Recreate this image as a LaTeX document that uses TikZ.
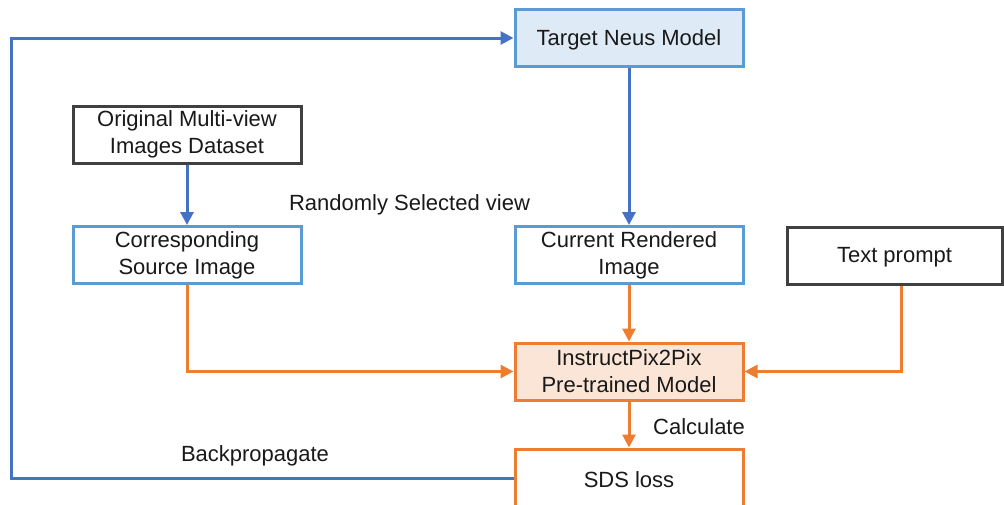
\documentclass[tikz,border=0pt]{standalone}
\usepackage{fontspec}
\setmainfont{Liberation Sans}
\usetikzlibrary{arrows.meta}
\definecolor{lineblue}{HTML}{4472C4}
\definecolor{boxblue}{HTML}{5B9BD5}
\definecolor{fillblue}{HTML}{DEEBF7}
\definecolor{boxdark}{HTML}{404040}
\definecolor{orng}{HTML}{ED7D31}
\definecolor{fillorng}{HTML}{FBE5D6}
\tikzset{
  box/.style={draw, line width=3pt, minimum width=228pt, minimum height=57pt,
    align=center, inner sep=2pt, font=\fontsize{22}{27}\selectfont, text=black!90,
    execute at begin node={\rule{0pt}{19pt}}},
  bluebox/.style={box, draw=boxblue, fill=white},
  darkbox/.style={box, draw=boxdark, fill=white},
  orngbox/.style={box, draw=orng, fill=white},
  bline/.style={draw=lineblue, line width=3pt, -{Triangle[length=13pt,width=13pt]}},
  oline/.style={draw=orng, line width=3pt, -{Triangle[length=13pt,width=13pt]}},
  lbl/.style={font=\fontsize{22}{27}\selectfont, text=black!90, inner sep=0pt}
}
\begin{document}
\begin{tikzpicture}[x=1pt,y=-1pt]
\useasboundingbox (0,0) rectangle (1004,504);
% boxes
\node[bluebox, fill=fillblue] (tn) at (629,38) {Target Neus Model};
\node[darkbox] (od) at (187,134.5) {Original Multi-view\\Images Dataset};
\node[bluebox] (cs) at (187,255) {Corresponding\\Source Image};
\node[bluebox] (cr) at (629,255) {Current Rendered\\Image};
\node[darkbox, minimum width=215pt] (tp) at (894.5,255.5) {Text prompt};
\node[orngbox, fill=fillorng] (ip) at (629,371.5) {InstructPix2Pix\\Pre-trained Model};
\node[orngbox, minimum height=58pt] (sds) at (629,478) {SDS loss};
% labels
\node[lbl] (rs) at (409.5,205) {Randomly Selected view};
\node[lbl] (calc) at (699,427) {Calculate};
\node[lbl] (bp) at (255,456) {Backpropagate};
% connectors
\coordinate (loopx) at (11,0);
\coordinate (tpx) at (901,0);
\draw[bline] (sds.west) -- (sds.west -| loopx) -- (tn.west -| loopx) -- (tn.west);
\draw[bline] (tn.south) -- (cr.north);
\draw[bline] (od.south) -- (cs.north);
\draw[oline] (cs.south) |- (ip.west);
\draw[oline] (cr.south) -- (ip.north);
\draw[oline] (tp.south -| tpx) |- (ip.east);
\draw[oline] (ip.south) -- (sds.north);
\end{tikzpicture}
\end{document}
